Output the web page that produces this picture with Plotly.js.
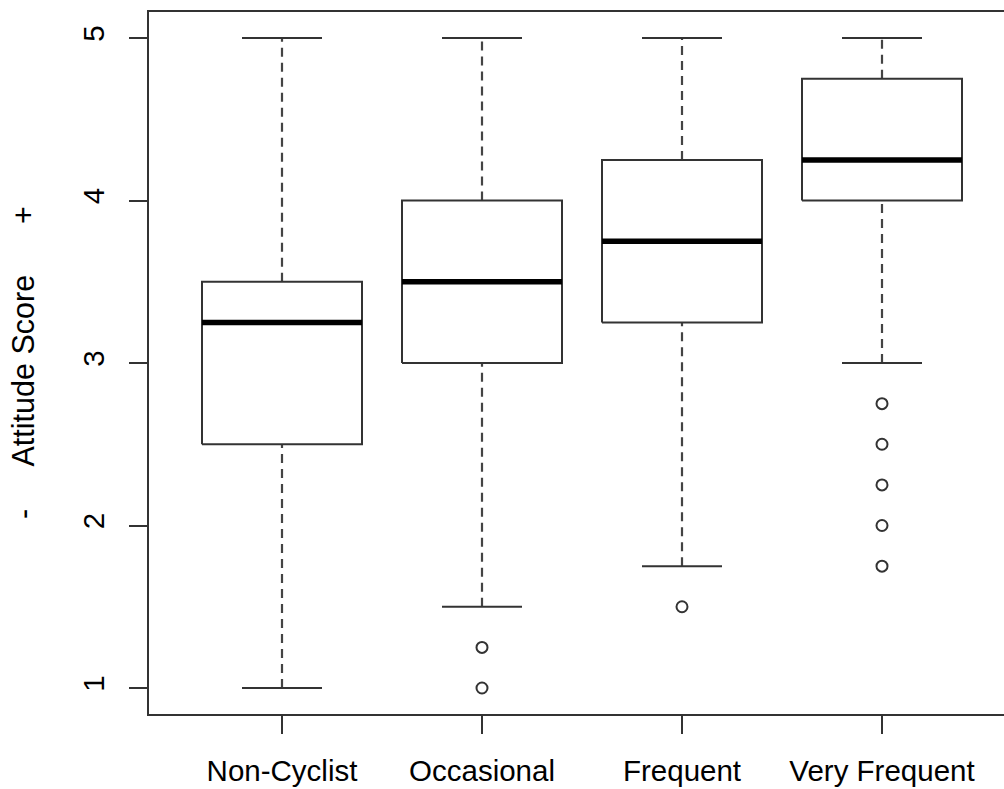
<!DOCTYPE html>
<html>
<head>
<meta charset="utf-8">
<script src="https://cdn.plot.ly/plotly-3.0.1.min.js"></script>
<style>html,body{margin:0;padding:0;background:#fff;overflow:hidden;}</style>
</head>
<body>
<div id="chart" style="width:1004px;height:789px;"></div>
<script>
// Data
const categories = ["Non-Cyclist", "Occasional", "Frequent", "Very Frequent"];
const lowerWhisker = [1.0, 1.5, 1.75, 3.0];
const q1 = [2.5, 3.0, 3.25, 4.0];
const median = [3.25, 3.5, 3.75, 4.25];
const q3 = [3.5, 4.0, 4.25, 4.75];
const upperWhisker = [5.0, 5.0, 5.0, 5.0];
const outliers = [
  [],
  [1.25, 1.0],
  [1.5],
  [2.75, 2.5, 2.25, 2.0, 1.75]
];
const yTicks = [1, 2, 3, 4, 5];
const yTitle = "Attitude Score";

const halfBox = 0.4, halfCap = 0.2;
const lineCol = '#333333';

const boxX = [], boxY = [], whX = [], whY = [], capX = [], capY = [], medX = [], medY = [], outX = [], outY = [];
categories.forEach((c, i) => {
  boxX.push(i - halfBox, i + halfBox, i + halfBox, i - halfBox, i - halfBox, null);
  boxY.push(q1[i], q1[i], q3[i], q3[i], q1[i], null);
  whX.push(i, i, null, i, i, null);
  whY.push(lowerWhisker[i], q1[i], null, q3[i], upperWhisker[i], null);
  capX.push(i - halfCap, i + halfCap, null, i - halfCap, i + halfCap, null);
  capY.push(lowerWhisker[i], lowerWhisker[i], null, upperWhisker[i], upperWhisker[i], null);
  medX.push(i - halfBox, i + halfBox, null);
  medY.push(median[i], median[i], null);
  outliers[i].forEach(v => { outX.push(i); outY.push(v); });
});

const traces = [
  {x: whX, y: whY, mode: 'lines', line: {color: '#444444', width: 2.2, dash: '9px,6px'}, hoverinfo: 'skip'},
  {x: capX, y: capY, mode: 'lines', line: {color: lineCol, width: 2}, hoverinfo: 'skip'},
  {x: boxX, y: boxY, mode: 'lines', line: {color: lineCol, width: 2}, hoverinfo: 'skip'},
  {x: medX, y: medY, mode: 'lines', line: {color: '#000000', width: 5.5}, hoverinfo: 'skip'},
  {x: outX, y: outY, mode: 'markers', marker: {symbol: 'circle-open', size: 11, color: lineCol, line: {width: 2, color: lineCol}}, hoverinfo: 'skip'}
];

const nb = '\u00A0';
const layout = {
  width: 1004, height: 789,
  margin: {l: 149, r: 0, t: 12, b: 75, pad: 0},
  paper_bgcolor: '#ffffff', plot_bgcolor: '#ffffff',
  showlegend: false,
  font: {family: 'Liberation Sans, Arial, sans-serif', size: 29.5, color: '#000000'},
  xaxis: {
    range: [-0.665, 3.61],
    tickmode: 'array', tickvals: [0, 1, 2, 3], ticktext: categories,
    showgrid: false, zeroline: false,
    showline: true, mirror: true, linecolor: lineCol, linewidth: 2,
    ticks: 'outside', ticklen: 18, tickwidth: 2, tickcolor: lineCol,
    ticklabelstandoff: 12
  },
  yaxis: {
    range: [0.84, 5.16],
    tickmode: 'array', tickvals: yTicks, ticktext: yTicks.map(String),
    tickangle: -90,
    showgrid: false, zeroline: false,
    showline: true, mirror: false, linecolor: lineCol, linewidth: 2,
    ticks: 'outside', ticklen: 18, tickwidth: 2, tickcolor: lineCol,
    ticklabelstandoff: 13
  },
  annotations: [{
    text: '-' + nb.repeat(5) + yTitle + nb.repeat(6) + '+',
    textangle: -90, showarrow: false,
    xref: 'paper', yref: 'paper', x: 0, y: 0.5, xshift: -126,
    xanchor: 'center', yanchor: 'middle',
    font: {size: 30.5, color: '#000000', family: 'Liberation Sans, Arial, sans-serif'}
  }]
};

Plotly.newPlot('chart', traces, layout, {displayModeBar: false, staticPlot: true});
</script>
</body>
</html>
